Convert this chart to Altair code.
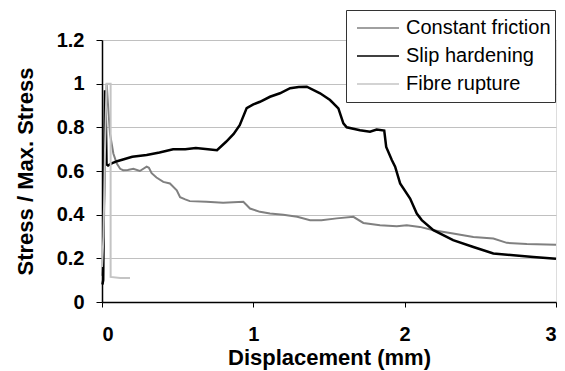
import altair as alt
import pandas as pd

series_names = ["Constant friction", "Slip hardening", "Fibre rupture"]
series_colors = ["#808080", "#000000", "#c4c4c4"]
series_widths = [2, 2.5, 2]

cf_x = [0.0, 0.005, 0.015, 0.025, 0.031, 0.04, 0.053, 0.075, 0.097, 0.12, 0.14, 0.17, 0.207,
        0.25, 0.295, 0.31, 0.328, 0.36, 0.405, 0.449, 0.494, 0.516, 0.55, 0.58, 0.69, 0.8,
        0.934, 0.978, 1.044, 1.11, 1.198, 1.29, 1.375, 1.45, 1.551, 1.661, 1.727, 1.837,
        1.948, 2.014, 2.10, 2.19, 2.32, 2.454, 2.586, 2.675, 2.807, 3.0]
cf_y = [0.12, 0.16, 0.5, 0.9, 1.0, 0.9, 0.77, 0.68, 0.635, 0.61, 0.604, 0.605, 0.61,
        0.6, 0.62, 0.615, 0.59, 0.57, 0.55, 0.543, 0.512, 0.48, 0.47, 0.462, 0.459, 0.455,
        0.459, 0.428, 0.413, 0.405, 0.40, 0.39, 0.375, 0.375, 0.383, 0.39, 0.362, 0.352,
        0.347, 0.352, 0.344, 0.329, 0.314, 0.298, 0.291, 0.271, 0.266, 0.262]

sh_x = [0.003, 0.008, 0.012, 0.016, 0.02, 0.025, 0.03, 0.04, 0.064, 0.1, 0.15, 0.2, 0.295,
        0.38, 0.47, 0.55, 0.62, 0.7, 0.76, 0.82, 0.87, 0.91, 0.956, 1.0, 1.044, 1.11,
        1.176, 1.243, 1.3, 1.353, 1.441, 1.507, 1.562, 1.595, 1.617, 1.705, 1.771, 1.815,
        1.865, 1.878, 1.915, 1.937, 1.97, 2.036, 2.08, 2.113, 2.19, 2.32, 2.454, 2.586,
        2.719, 2.85, 3.0]
sh_y = [0.08, 0.1, 0.41, 0.72, 0.97, 0.85, 0.63, 0.625, 0.635, 0.645, 0.655, 0.665, 0.673,
        0.685, 0.70, 0.70, 0.705, 0.70, 0.695, 0.734, 0.77, 0.81, 0.888, 0.905, 0.917, 0.94,
        0.956, 0.979, 0.985, 0.986, 0.956, 0.925, 0.887, 0.818, 0.80, 0.787, 0.78, 0.79,
        0.785, 0.71, 0.65, 0.62, 0.543, 0.474, 0.405, 0.375, 0.329, 0.283, 0.252, 0.222,
        0.214, 0.206, 0.198]

fr_x = [0.0, 0.01, 0.02, 0.03, 0.057, 0.057, 0.12, 0.185]
fr_y = [0.16, 0.3, 0.7, 1.0, 1.0, 0.115, 0.11, 0.11]

y_ticks = [0, 0.2, 0.4, 0.6, 0.8, 1.0, 1.2]
x_ticks = [0, 1, 2, 3]

rows = []
for name, w, xs, ys in [(series_names[0], series_widths[0], cf_x, cf_y),
                        (series_names[1], series_widths[1], sh_x, sh_y),
                        (series_names[2], series_widths[2], fr_x, fr_y)]:
    for i, (a, b) in enumerate(zip(xs, ys)):
        rows.append({"series": name, "x": a, "y": b, "i": i, "w": w})
df = pd.DataFrame(rows)

FONT = "Liberation Sans"

chart = alt.Chart(df).mark_line().encode(
    x=alt.X("x:Q",
            scale=alt.Scale(domain=[0, 3], nice=False, zero=False),
            axis=alt.Axis(values=x_ticks, title="Displacement (mm)", grid=False,
                          format="d", tickSize=5, labelPadding=17, titlePadding=3,
                          domainColor="black", tickColor="black", domainWidth=1.5,
                          labelFontSize=20, labelFontWeight="bold", labelColor="black",
                          titleFontSize=22, titleFontWeight="bold", titleColor="black",
                          labelFont=FONT, titleFont=FONT)),
    y=alt.Y("y:Q",
            scale=alt.Scale(domain=[0, 1.2], nice=False),
            axis=alt.Axis(values=y_ticks, title="Stress / Max. Stress", grid=True,
                          gridColor="#c0c0c0", gridWidth=1,
                          format="~g", tickSize=6, labelPadding=12, titlePadding=19,
                          domainColor="black", tickColor="black", domainWidth=1.5,
                          labelFontSize=20, labelFontWeight="bold", labelColor="black",
                          titleFontSize=22, titleFontWeight="bold", titleColor="black",
                          labelFont=FONT, titleFont=FONT)),
    color=alt.Color("series:N",
                    scale=alt.Scale(domain=series_names, range=series_colors),
                    legend=alt.Legend(title=None, orient="none", legendX=244, legendY=-30,
                                      symbolType="stroke", symbolSize=1764,
                                      symbolStrokeWidth=1.5, clipHeight=28, rowPadding=0,
                                      labelOffset=6, padding=4, symbolOffset=6,
                                      labelFontSize=20, labelFont=FONT, labelColor="black",
                                      fillColor="white", strokeColor="#333333",
                                      labelLimit=300)),
    strokeWidth=alt.StrokeWidth("w:Q", scale=None, legend=None),
    order=alt.Order("i:Q"),
).properties(
    width=454, height=262,
    autosize=alt.AutoSizeParams(type="none"),
    padding={"left": 102, "top": 40, "right": 9, "bottom": 69},
).configure_view(
    stroke="#808080", strokeWidth=1
).configure(background="white")

chart.save("out.html", embed_options={"renderer": "svg", "actions": False})
